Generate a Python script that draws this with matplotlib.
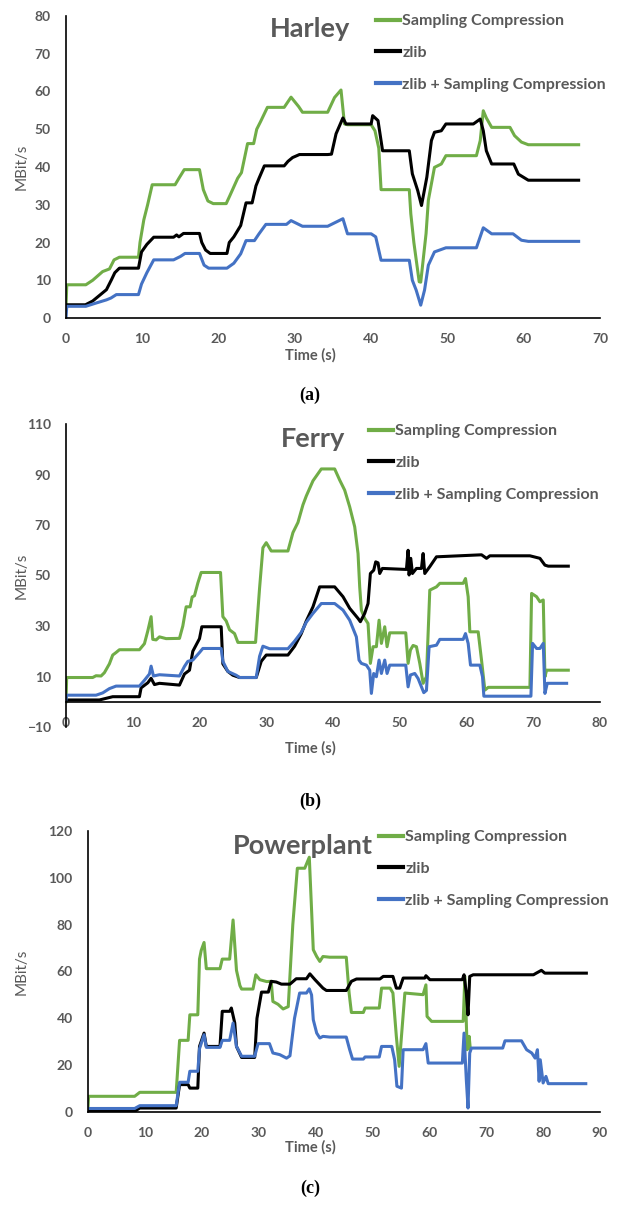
import matplotlib
matplotlib.use("Agg")
import matplotlib.pyplot as plt
import numpy as np

# couleurs / police
GREEN = "#70AD47"
BLACK = "#000000"
BLUE = "#4472C4"
GRAY = "#595959"
FONT = ["Lato", "DejaVu Sans"]

series_names = ["Sampling Compression", "zlib", "zlib + Sampling Compression"]

# (temps s, MBit/s)
harley_sc = [(0, 3), (0.1, 8.8), (2.6, 8.8), (3.5, 10), (4.8, 12.3), (5.7, 13), (6.3, 15.4), (7.0, 16.1),
             (9.5, 16.1), (9.7, 20), (10.2, 26), (10.7, 30), (11.3, 35.3), (14.3, 35.3), (14.8, 37), (15.5, 39.3),
             (17.5, 39.3), (18.0, 34), (18.6, 31), (19.3, 30.3), (21.0, 30.3), (21.5, 32.5), (22.5, 37), (23.0, 38.5),
             (23.8, 46.2), (24.6, 46.2), (25.0, 50), (25.5, 52), (26.4, 55.8), (28.6, 55.8), (29.5, 58.5), (30.5, 56),
             (31.0, 54.5), (34.3, 54.5), (35.2, 58.4), (36.05, 60.4), (36.5, 51.4), (36.9, 51.2), (40.0, 51.2),
             (40.5, 49.6), (41.0, 45), (41.3, 34), (45.0, 34), (45.2, 27.6), (45.6, 20), (46.3, 9.6), (46.5, 9.5),
             (47.2, 22.4), (47.5, 31.2), (48.3, 39.9), (49.2, 40.8), (49.8, 43), (53.8, 43), (54.3, 47), (54.7, 54.9),
             (55.1, 53), (55.8, 50.5), (58.2, 50.5), (58.8, 48.3), (59.7, 46.6), (60.6, 45.9), (67.2, 45.9)]
harley_zlib = [(0, 3.5), (2.55, 3.5), (3.5, 4.5), (4.4, 6), (5.3, 7.5), (5.95, 10.1), (6.4, 12), (7.0, 13.2),
               (9.5, 13.2), (9.9, 17.5), (10.6, 19.5), (11.5, 21.4), (14.1, 21.4), (14.5, 22.0), (14.8, 21.5),
               (15.4, 22.4), (17.5, 22.4), (17.8, 20), (18.3, 18), (18.9, 17.1), (21.1, 17.1), (21.4, 20), (22, 21.5),
               (22.9, 24.5), (23.6, 30.5), (24.4, 30.5), (24.9, 35), (25.3, 37), (26, 40.3), (28.6, 40.3),
               (29.1, 41.5), (29.7, 42.5), (30.6, 43.3), (34.3, 43.3), (34.8, 43.4), (35.4, 48.8), (36.3, 53),
               (36.7, 51.4), (40, 51.4), (40.2, 53.6), (40.9, 52.3), (41.5, 44.3), (45, 44.3), (45.4, 38.2),
               (46.1, 33.8), (46.6, 29.8), (47.3, 37.3), (47.9, 47), (48.3, 49.2), (49.2, 49.6), (49.8, 51.4),
               (53.4, 51.4), (54.3, 52.7), (54.7, 49.6), (55.1, 44.3), (55.8, 40.8), (58.7, 40.8), (59.3, 38.1),
               (60.6, 36.5), (67.2, 36.5)]
harley_both = [(0, 0), (0.1, 3.1), (2.6, 3.1), (4, 4), (5.3, 4.8), (5.9, 5.3), (6.6, 6.2), (9.5, 6.2), (9.9, 9),
               (10.6, 12), (11.5, 15.4), (14.1, 15.4), (15, 16.3), (15.6, 17.1), (17.5, 17.1), (18.1, 14),
               (18.7, 13.2), (21.1, 13.2), (22, 14.5), (22.9, 17), (23.6, 20.5), (24.7, 20.5), (25.3, 22.3),
               (26.2, 24.8), (28.9, 24.8), (29.5, 25.8), (31, 24.3), (34.3, 24.3), (35.4, 25.4), (36.3, 26.3),
               (36.9, 22.3), (40, 22.3), (40.6, 21.5), (41.3, 15.3), (45, 15.3), (45.4, 10), (45.9, 7.4), (46.5, 3.4),
               (47, 7.4), (47.5, 14), (48.3, 17.5), (49.8, 18.6), (53.8, 18.6), (54.7, 23.9), (55.8, 22.3),
               (58.6, 22.3), (59.7, 20.6), (60.6, 20.3), (67.2, 20.3)]

ferry_sc = [(0, 0), (0.1, 9.6), (4, 9.6), (4.5, 10.3), (5.25, 10.2), (5.75, 11.5), (6.5, 15), (7, 18.5), (7.5, 19.5),
            (8, 20.6), (11, 20.6), (11.75, 23), (12.25, 28), (12.75, 33.7), (13, 24.7), (13.5, 24.5), (14, 25.7),
            (15, 25), (17, 25.1), (17.5, 30), (18, 37.6), (18.6, 37.6), (18.9, 41.5), (19.25, 42), (19.75, 47),
            (20.25, 51.2), (23.15, 51.2), (23.5, 33.7), (24, 32), (24.5, 28.5), (25.25, 27), (25.75, 23.5),
            (28.4, 23.5), (29, 45), (29.5, 61), (30, 63), (30.75, 59.7), (33.25, 59.7), (34, 67), (34.75, 71),
            (35.5, 78), (36, 81.5), (37, 87.5), (38.25, 92.2), (40.25, 92.2), (41, 87.8), (41.75, 83.8), (42.5, 77.2),
            (43.25, 69.3), (43.75, 58.7), (44, 45.5), (44.25, 36.3), (44.75, 33), (45.25, 31), (45.6, 15.2),
            (46, 21.8), (46.5, 21.8), (46.9, 32.3), (47.25, 23.1), (47.75, 29.7), (48.1, 21.8), (48.5, 27.3),
            (50.9, 27.3), (51.25, 15.2), (51.6, 20.5), (52, 22.3), (52.5, 21.8), (53, 15.2), (53.5, 7.3), (54, 9.9),
            (54.5, 44.2), (55.5, 45.5), (56, 46.9), (59.5, 46.9), (59.85, 48.8), (60.25, 41.6), (60.5, 27.7),
            (61.75, 27.7), (62.25, 16.5), (62.75, 4.6), (63.25, 5.7), (69.5, 5.7), (69.75, 42.9), (70.5, 41.6),
            (71, 39.6), (71.5, 40.3), (71.75, 9.9), (72, 12.5), (75.25, 12.5)]
ferry_zlib = [(0, 0.7), (5, 0.7), (7, 2), (11, 2), (11.25, 5.5), (12.25, 7.5), (12.75, 9.3), (13.25, 6.8), (14, 7.3),
              (17, 6.6), (17.75, 11), (18.5, 12.5), (19, 20), (20, 25), (20.35, 29.7), (23.25, 29.7), (23.5, 15),
              (24.25, 12), (25, 10.5), (26, 9.6), (28.5, 9.6), (29.25, 16), (30, 18.5), (33.25, 18.5), (34.25, 22),
              (35.25, 27), (36, 32), (37, 37.6), (38, 45.5), (40.25, 45.5), (41.5, 41.6), (42.5, 37), (43.75, 33),
              (44.1, 31.7), (44.75, 35), (45.25, 38.9), (45.6, 50.8), (46.1, 52.1), (46.4, 55.4), (46.75, 55),
              (47, 50.8), (47.4, 52.8), (51, 52.4), (51.25, 60), (51.4, 50.2), (51.65, 56.8), (51.9, 50.8),
              (52.5, 52.8), (53.25, 52.8), (53.5, 58.7), (53.75, 50.8), (54.5, 53.5), (55.5, 57.4), (62.25, 58.2),
              (63, 56.8), (63.5, 57.8), (69.5, 57.8), (71, 56.8), (71.75, 54.1), (72.25, 53.7), (75.25, 53.7)]
ferry_both = [(0, 1), (0.1, 2.6), (4.5, 2.6), (5.5, 3.5), (6.5, 5.2), (7.5, 6.2), (11, 6.2), (11.75, 8.5), (12.5, 11),
              (12.75, 14.1), (13.1, 10.2), (14, 10.7), (17, 10.2), (17.75, 14), (18.25, 16), (19, 16.5), (20, 19.5),
              (20.5, 21.1), (23.25, 21.1), (23.5, 16), (24.25, 12), (25.5, 10.5), (26, 9.6), (28.5, 9.6), (29, 18),
              (29.5, 22), (30.5, 21), (33.25, 21), (34.25, 24), (35.25, 27.5), (36, 31.5), (37, 35), (38.25, 38.9),
              (40.25, 38.9), (41.5, 36.3), (42.5, 32.3), (43.5, 25.7), (43.9, 16.5), (44.25, 15.2), (45, 14.5),
              (45.5, 12.5), (45.75, 3.3), (46.1, 11.2), (46.5, 9.9), (46.9, 16.5), (47.25, 11.2), (47.75, 16.5),
              (48.1, 11.2), (48.5, 14.5), (50.9, 14.5), (51.25, 5.9), (51.6, 10.6), (52.25, 11.2), (52.75, 9.2),
              (53.25, 5.9), (53.6, 3.6), (54, 4.5), (54.4, 21.8), (55.5, 22.4), (56, 24.7), (59.5, 24.7), (59.85, 27),
              (60.25, 23.1), (60.6, 14.5), (62, 14.5), (62.4, 9.9), (62.6, 2.2), (69.65, 2.2), (69.9, 23.1),
              (70.5, 21.1), (71, 21.1), (71.5, 23.1), (71.75, 3.3), (72.1, 7.3), (75, 7.3)]

power_sc = [(0, 2), (0.1, 6.7), (8.2, 6.7), (9.1, 8.4), (15.5, 8.4), (16.1, 30.6), (17.6, 30.6), (17.9, 41.5),
            (19.3, 41.5), (19.6, 65.3), (19.9, 69), (20.4, 72.4), (20.8, 61.2), (23.2, 61.2), (23.6, 65.3),
            (24.9, 65.3), (25.5, 82), (26.1, 60.5), (26.7, 54), (27, 52.5), (29, 52.5), (29.5, 58.6), (30.2, 56.5),
            (31.4, 55.7), (32.2, 55.8), (32.5, 47.2), (33.4, 46), (34.3, 44), (35.2, 45), (36, 80), (36.8, 104.1),
            (38.1, 104.1), (38.9, 108.8), (39.6, 69.3), (40.2, 66.4), (40.75, 64.3), (41.3, 66.4), (42.5, 66.1),
            (45.4, 66.1), (45.9, 50.8), (46.3, 42.5), (48.4, 42.5), (48.7, 44.4), (51.2, 44.4), (51.6, 52.9),
            (53.1, 52.9), (53.6, 50.8), (54.2, 32.3), (54.7, 19.5), (55.1, 32.3), (55.7, 50.8), (58.9, 50.1),
            (59.4, 54.3), (59.6, 40.8), (60.4, 38.7), (65.95, 38.7), (66.25, 57.9), (66.65, 26.6), (67, 32.3),
            (67.2, 27)]
power_zlib = [(0, 0.3), (8.2, 0.3), (9.1, 1.7), (15.5, 1.7), (16.1, 11.7), (17.6, 11.7), (17.9, 10.2), (19.3, 10.2),
              (19.6, 28), (20.4, 33.7), (20.8, 28), (23.2, 28), (23.6, 43), (24.9, 43), (25.2, 44.4), (25.8, 38),
              (26.1, 28), (27, 23.3), (29.3, 23.3), (29.7, 40), (30.5, 51.2), (31.7, 51.2), (32.2, 55.8),
              (33.1, 55.5), (34, 54.6), (35.5, 54.6), (36.6, 56.9), (38.4, 56.9), (39, 59), (39.9, 56.5),
              (41.3, 52.9), (41.9, 51.9), (45.4, 51.9), (46.3, 55.8), (47.2, 56.8), (51.3, 56.8), (51.9, 57.9),
              (53.6, 57.9), (54.2, 52.9), (54.8, 52.9), (55.4, 57.2), (59.2, 57.2), (59.4, 58.2), (60.1, 56.5),
              (65.8, 56.5), (66.1, 58.6), (66.5, 50.8), (66.8, 41.5), (67.1, 57.9), (67.7, 58.6), (78.3, 58.6),
              (78.8, 59.3), (79.7, 60.5), (80.3, 59.3), (87.6, 59.3)]
power_both = [(0, 1.5), (8.2, 1.5), (9.1, 2.7), (15.5, 2.7), (16.1, 12.7), (17.6, 12.7), (17.9, 17.4), (19.3, 17.4),
              (19.6, 27), (20.4, 33), (20.8, 27.6), (23.2, 27.6), (23.6, 30.6), (24.9, 30.6), (25.5, 38), (26.1, 28),
              (27, 23.8), (29.3, 23.8), (29.9, 29.2), (31.9, 29.2), (32.5, 25.2), (33.7, 24.5), (34.9, 23),
              (35.5, 24), (36.3, 40), (37.2, 50.8), (38.4, 50.8), (38.9, 52.6), (39.3, 50), (39.6, 39.4),
              (40.2, 33.7), (40.75, 31.6), (41.3, 32.3), (42.5, 32), (45.4, 32), (46, 26.6), (46.5, 22.6),
              (48.4, 22.6), (48.7, 23.5), (51.2, 23.5), (51.6, 28), (53.4, 28), (53.9, 22.3), (54.3, 11),
              (55.1, 10.2), (55.4, 26.6), (58.9, 26.6), (59.4, 29.2), (59.8, 20.9), (65.8, 20.9), (66.1, 33.7),
              (66.5, 13.8), (66.8, 1.7), (67.1, 25.2), (67.4, 27.3), (72.9, 27.3), (73.3, 30.4), (76.2, 30.4),
              (77.1, 26.6), (78, 25.2), (78.6, 23), (79, 26.6), (79.3, 13.1), (79.5, 22.3), (80, 12.4), (80.5, 15.2),
              (80.9, 12.1), (87.5, 12.1)]

W, H = 618, 1226
fig = plt.figure(figsize=(W / 100, H / 100), dpi=100)


def px_rect(x0, y0, x1, y1):
    # rectangle en pixels (haut-gauche) -> coordonnées figure
    return [x0 / W, 1 - y1 / H, (x1 - x0) / W, (y1 - y0) / H]


def make_panel(rect, data, title, title_xy, ylim, yticks, xlim, xticks, legend_xy, xlabel_y, caption, caption_y):
    ax = fig.add_axes(px_rect(*rect))
    for serie, color, name in zip(data, [GREEN, BLACK, BLUE], series_names):
        t, v = np.array(serie).T
        ax.plot(t, v, color=color, lw=2.2, label=name, solid_joinstyle="round")

    ax.set_xlim(*xlim)
    ax.set_ylim(*ylim)
    ax.set_xticks(xticks)
    ax.set_yticks(yticks)
    ax.spines["top"].set_visible(False)
    ax.spines["right"].set_visible(False)
    ax.spines["bottom"].set_position(("data", 0))
    ax.spines["left"].set_linewidth(1.2)
    ax.spines["bottom"].set_linewidth(1.2)
    ax.tick_params(length=0, pad=11, labelsize=10, labelcolor=GRAY)
    for lab in ax.get_xticklabels() + ax.get_yticklabels():
        lab.set_fontweight("bold")
        lab.set_family(FONT)

    # titre de l'axe y
    ax.set_ylabel("MBit/s", fontsize=11, color=GRAY, family=FONT)
    ax.yaxis.set_label_coords((29 - rect[0]) / (rect[2] - rect[0]), 0.5)

    fig.text(title_xy[0] / W, 1 - title_xy[1] / H, title, ha="center", va="center", fontsize=19.5,
             fontweight="bold", color=GRAY, family=FONT)
    fig.text(310 / W, 1 - xlabel_y / H, "Time (s)", ha="center", va="center", fontsize=10.5,
             fontweight="bold", color=GRAY, family=FONT)
    fig.text(310 / W, 1 - caption_y / H, caption, ha="center", va="center", fontsize=13,
             fontweight="bold", color="black", family=["Liberation Serif", "DejaVu Serif"])

    leg = ax.legend(loc="upper left", bbox_to_anchor=(legend_xy[0] / W, 1 - legend_xy[1] / H),
                    bbox_transform=fig.transFigure, frameon=False, handlelength=1.5, handletextpad=0.15,
                    labelspacing=1.1, borderpad=0, borderaxespad=0,
                    prop={"family": FONT, "weight": "bold", "size": 11.5})
    for txt in leg.get_texts():
        txt.set_color(GRAY)
    for line in leg.get_lines():
        line.set_linewidth(3)
    return ax


make_panel((66, 16, 600, 318), [harley_sc, harley_zlib, harley_both], "Harley", (310, 29),
           (0, 80), range(0, 81, 10), (0, 70), range(0, 71, 10), (376, 14), 355, "(a)", 395)
make_panel((66, 424, 600, 727), [ferry_sc, ferry_zlib, ferry_both], "Ferry", (313, 439),
           (-10, 110), range(-10, 111, 20), (0, 80), range(0, 81, 10), (369, 424), 748, "(b)", 801)
make_panel((88, 831, 600, 1112), [power_sc, power_zlib, power_both], "Powerplant", (303, 846),
           (0, 120), range(0, 121, 20), (0, 90), range(0, 91, 10), (379, 830), 1147, "(c)", 1188)

fig.savefig("out.png", dpi=100)
